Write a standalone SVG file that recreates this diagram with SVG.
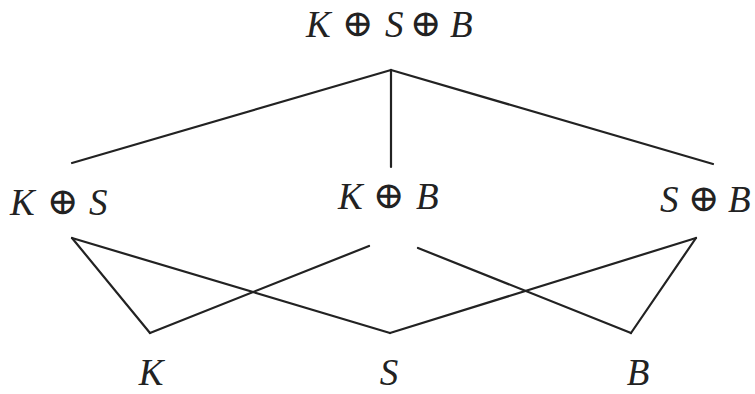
<svg xmlns="http://www.w3.org/2000/svg" width="755" height="394" viewBox="0 0 755 394">
<style>
text{font-family:"Liberation Serif","DejaVu Serif",serif;font-size:37px;fill:#222}
.v{font-style:italic}
.op{font-style:normal;font-size:38px;font-family:"DejaVu Serif","DejaVu Sans",serif}
.c{text-anchor:middle}
line{stroke:#222;stroke-width:2.2;stroke-linecap:round}
</style>
<rect width="755" height="394" fill="#fff"/>
<g id="connectors">
<line x1="391" y1="70" x2="72" y2="163"/>
<line x1="391" y1="70" x2="391" y2="167"/>
<line x1="391" y1="70" x2="713" y2="164"/>
<line x1="72" y1="238" x2="150" y2="333"/>
<line x1="72" y1="238" x2="390" y2="333"/>
<line x1="150" y1="333" x2="369" y2="246"/>
<line x1="418" y1="248" x2="631" y2="333"/>
<line x1="390" y1="333" x2="696" y2="238"/>
<line x1="696" y1="238" x2="631" y2="333"/>
</g>
<g id="KSB"><text y="37"><tspan class="v" x="306">K</tspan><tspan class="op" x="342" y="36">⊕</tspan><tspan class="v" x="385" y="37">S</tspan><tspan class="op" x="410" y="36">⊕</tspan><tspan class="v" x="450" y="37">B</tspan></text></g>
<g id="KS"><text y="215"><tspan class="v" x="10">K</tspan><tspan class="op" x="47" y="214">⊕</tspan><tspan class="v" x="89" y="215">S</tspan></text></g>
<g id="KB"><text y="209"><tspan class="v" x="338">K</tspan><tspan class="op" x="373" y="208">⊕</tspan><tspan class="v" x="416" y="209">B</tspan></text></g>
<g id="SB"><text y="212"><tspan class="v" x="660">S</tspan><tspan class="op" x="688" y="211">⊕</tspan><tspan class="v" x="728" y="212">B</tspan></text></g>
<g id="K"><text x="151" y="385" class="v c">K</text></g>
<g id="S"><text x="389" y="385" class="v c">S</text></g>
<g id="B"><text x="638" y="385" class="v c">B</text></g>
</svg>
